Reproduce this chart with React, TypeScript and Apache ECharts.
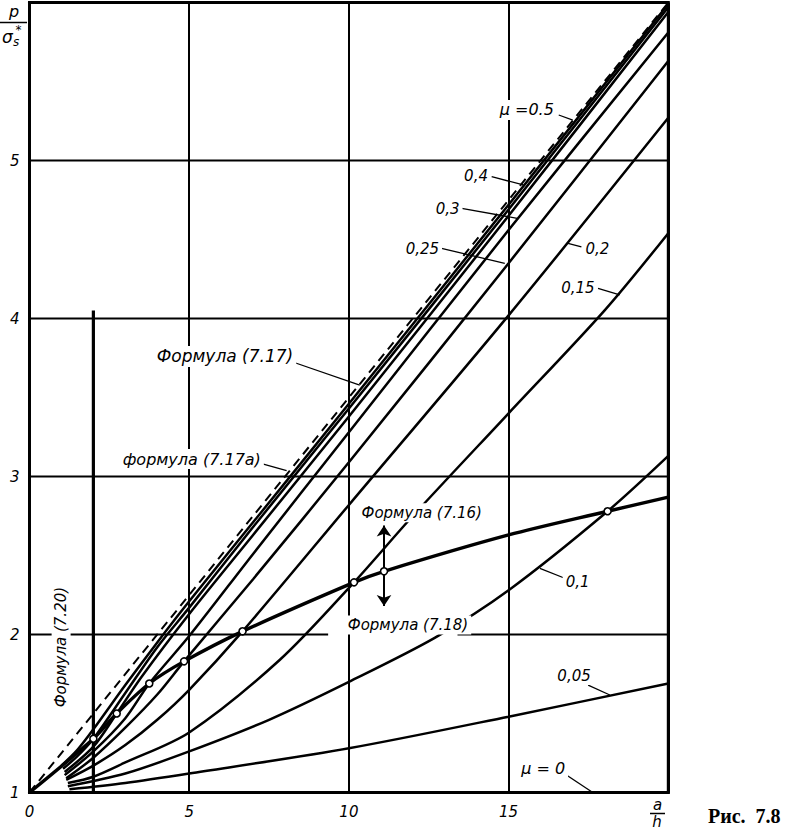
import React, { useEffect, useRef } from "react";
import * as echarts from "echarts";

// ---- data (a/h, p/σs*) ----
const xMin = 0;
const xMax = 20;
const xInterval = 5;
const yMin = 1;
const yMax = 6;
const yInterval = 1;

const formula717a = [[0, 1], [20, 6]];
const formula717 = [[1.0, 1.17], [1.5, 1.27], [2, 1.4], [3, 1.68], [4, 1.95], [5, 2.21], [7, 2.71], [10, 3.46], [15, 4.72], [20, 5.99]];
const mu05 = [[1.05, 1.15], [1.5, 1.23], [2, 1.34], [3, 1.63], [4, 1.92], [5, 2.17], [7, 2.68], [10, 3.43], [15, 4.69], [20, 5.97]];
const mu04 = [[1.1, 1.13], [2, 1.29], [2.73, 1.5], [3.5, 1.73], [5, 2.13], [7, 2.63], [10, 3.38], [15, 4.65], [20, 5.94]];
const mu03 = [[1.1, 1.11], [2, 1.26], [3, 1.47], [3.75, 1.69], [5, 1.99], [7, 2.51], [10, 3.28], [15, 4.56], [20, 5.81]];
const mu025 = [[1.15, 1.09], [2, 1.22], [3, 1.41], [4, 1.62], [4.84, 1.83], [7, 2.35], [10, 3.09], [15, 4.35], [20, 5.63]];
const mu02 = [[1.15, 1.08], [2, 1.17], [3, 1.3], [4, 1.46], [5, 1.65], [6.67, 2.02], [10, 2.82], [15, 4.02], [20, 5.27]];
const mu015 = [[1.2, 1.06], [2, 1.1], [3, 1.19], [5, 1.38], [7.84, 1.84], [10.16, 2.33], [12, 2.75], [15, 3.4], [18, 4.05], [20, 4.54]];
const mu01 = [[1.2, 1.04], [3, 1.12], [5, 1.26], [7.5, 1.46], [10, 1.7], [12.7, 1.98], [15, 2.28], [18.1, 2.78], [20, 3.13]];
const mu005 = [[1.25, 1.02], [3, 1.06], [5, 1.12], [10, 1.28], [15, 1.48], [20, 1.69]];
const mu0 = [[1.25, 1.0], [20, 1.0]];
const formula716 = [[0, 1], [2, 1.34], [2.73, 1.5], [3.75, 1.69], [4.84, 1.83], [6.67, 2.02], [10.16, 2.33], [11.1, 2.4], [15, 2.63], [18.1, 2.78], [20, 2.87]];
const formula716Points = [[2, 1.34], [2.73, 1.5], [3.75, 1.69], [4.84, 1.83], [6.67, 2.02], [10.16, 2.33], [11.1, 2.4], [18.1, 2.78]];
const formula720 = [[2, 1], [2, 4.05]];
const arrowBase = [11.1, 2.4];
const arrowUpTip = [11.1, 2.69];
const arrowDownTip = [11.1, 2.18];

// horizontal grid lines (the one at 2 is interrupted by the labels)
const gridLinesY = [3, 4, 5];
const gridY2Segments = [[[0, 2], [9.35, 2]], [[13.4, 2], [20, 2]]];

// leader lines: [label end, curve end]
const leaders = [
  [[16.57, 5.288], [17.01, 5.256]],
  [[14.47, 4.898], [15.46, 4.845]],
  [[13.53, 4.697], [15.27, 4.634]],
  [[12.9, 4.444], [14.88, 4.349]],
  [[17.28, 4.454], [16.86, 4.476]],
  [[17.8, 4.191], [18.48, 4.149]],
  [[8.31, 3.72], [10.34, 3.579]],
  [[7.21, 3.084], [8.05, 3.037]],
  [[16.76, 2.356], [15.98, 2.419]],
  [[17.49, 1.68], [18.17, 1.617]],
  [[16.81, 1.111], [17.6, 1.005]],
];

// annotation texts and their anchors
const labelTexts = ["μ =0.5", "0,4", "0,3", "0,25", "0,2", "0,15", "Формула (7.17)", "формула (7.17а)", "Формула (7.16)", "Формула (7.18)", "0,1", "0,05", "μ = 0", "Формула (7.20)"];
const labelAnchors = [[15.57, 5.32], [13.98, 4.9], [13.09, 4.69], [12.3, 4.44], [17.78, 4.44], [17.17, 4.19], [6.12, 3.76], [5.08, 3.11], [12.28, 2.77], [11.85, 2.06], [17.16, 2.33], [17.05, 1.74], [16.08, 1.15], [0.99, 1.92]];
const labelSizes = [16, 15, 15, 15, 15, 15, 17, 16, 15, 15, 15, 15, 16, 15];
const labelRotated = [false, false, false, false, false, false, false, false, false, false, false, false, false, true];

const FONT = '"DejaVu Sans", sans-serif';

export default function App() {
  const ref = useRef<HTMLDivElement>(null);

  useEffect(() => {
    if (!ref.current) return;
    const chart = echarts.init(ref.current, null, { renderer: "svg" });

    const lineSeries = (data: number[][], width: number, dashed = false, smooth: number | boolean = 0.3) => ({
      type: "line",
      data,
      symbol: "none",
      showSymbol: false,
      smooth,
      silent: true,
      z: 3,
      lineStyle: { color: "#000", width, type: dashed ? [9, 6] : "solid" },
    });

    const series: any[] = [];
    gridLinesY.forEach((v) => series.push({ ...lineSeries([[xMin, v], [xMax, v]], 2, false, false), z: 1 }));
    gridY2Segments.forEach((seg) => series.push({ ...lineSeries(seg, 2, false, false), z: 1 }));
    series.push({ ...lineSeries(formula720, 3.2, false, false), z: 2 });
    series.push(lineSeries(formula717a, 2, true, false));
    [formula717, mu05, mu04, mu03, mu025, mu02, mu015, mu01, mu005].forEach((d) => series.push(lineSeries(d, 2.5)));
    series.push(lineSeries(mu0, 2.5, false, false));
    series.push({
      ...lineSeries(formula716, 3.4),
      markLine: {
        silent: true,
        symbol: ["none", "arrow"],
        symbolSize: 11,
        label: { show: false },
        lineStyle: { color: "#000", width: 2, type: "solid" },
        data: [
          [{ coord: arrowBase }, { coord: arrowUpTip }],
          [{ coord: arrowBase }, { coord: arrowDownTip }],
        ],
      },
    });
    leaders.forEach((l) => series.push({ ...lineSeries(l, 1.3, false, false), z: 4 }));
    series.push({
      type: "scatter",
      data: formula716Points,
      symbol: "circle",
      symbolSize: 7,
      silent: true,
      z: 6,
      itemStyle: { color: "#fff", borderColor: "#000", borderWidth: 1.6, opacity: 1 },
    });

    const axisLabel = {
      color: "#000",
      fontSize: 15,
      fontStyle: "italic",
      fontFamily: FONT,
    };

    chart.setOption({
      animation: false,
      backgroundColor: "#fff",
      grid: {
        left: 29.5,
        right: 130.7,
        top: 2.5,
        bottom: 42.5,
        show: true,
        borderColor: "#000",
        borderWidth: 3,
        backgroundColor: "transparent",
      },
      xAxis: {
        type: "value",
        min: xMin,
        max: xMax,
        interval: xInterval,
        axisLine: { show: true, onZero: false, lineStyle: { color: "#000", width: 3 } },
        axisTick: { show: false },
        axisLabel: { ...axisLabel, margin: 12, formatter: (v: number) => (v === xMax ? "" : String(v)) },
        splitLine: { show: true, lineStyle: { color: "#000", width: 2 } },
      },
      yAxis: {
        type: "value",
        min: yMin,
        max: yMax,
        interval: yInterval,
        axisLine: { show: true, onZero: false, lineStyle: { color: "#000", width: 3 } },
        axisTick: { show: false },
        axisLabel: { ...axisLabel, margin: 10, formatter: (v: number) => (v === yMax ? "" : String(v)) },
        splitLine: { show: false },
      },
      series,
    });

    const textEl = (text: string, x: number, y: number, extra: any = {}, rotation = 0) => ({
      type: "text",
      x,
      y,
      rotation,
      z: 100,
      silent: true,
      style: {
        text,
        fill: "#000",
        fontSize: 15,
        fontStyle: "italic",
        fontFamily: FONT,
        align: "center",
        verticalAlign: "middle",
        textAlign: "center",
        textVerticalAlign: "middle",
        ...extra,
      },
    });

    const graphic: any[] = labelTexts.map((t, i) => {
      const [px, py] = chart.convertToPixel({ gridIndex: 0 }, labelAnchors[i]) as number[];
      return textEl(t, px, py, { fontSize: labelSizes[i], backgroundColor: "#fff", padding: [2, 3] }, labelRotated[i] ? Math.PI / 2 : 0);
    });

    // axis titles and caption
    graphic.push(textEl("p", 14, 11, { fontSize: 16 }));
    graphic.push({ type: "line", z: 100, silent: true, shape: { x1: 0, y1: 22.5, x2: 27, y2: 22.5 }, style: { stroke: "#000", lineWidth: 1.5 } });
    graphic.push(textEl("σ", 7.5, 37, { fontSize: 17 }));
    graphic.push(textEl("s", 16, 42, { fontSize: 12 }));
    graphic.push(textEl("*", 18.5, 30, { fontSize: 12, fontStyle: "normal" }));
    graphic.push(textEl("a", 657.5, 805, { fontSize: 15 }));
    graphic.push({ type: "line", z: 100, silent: true, shape: { x1: 650, y1: 813.5, x2: 665, y2: 813.5 }, style: { stroke: "#000", lineWidth: 1.5 } });
    graphic.push(textEl("h", 657, 822, { fontSize: 15 }));
    graphic.push(textEl("Рис.  7.8", 708, 816, { fontSize: 20, fontStyle: "normal", fontWeight: "bold", fontFamily: '"Liberation Serif", serif', align: "left", textAlign: "left" }));

    chart.setOption({ graphic });

    return () => chart.dispose();
  }, []);

  return <div ref={ref} style={{ position: "fixed", left: 0, top: 0, width: 799, height: 835, background: "#fff" }} />;
}
